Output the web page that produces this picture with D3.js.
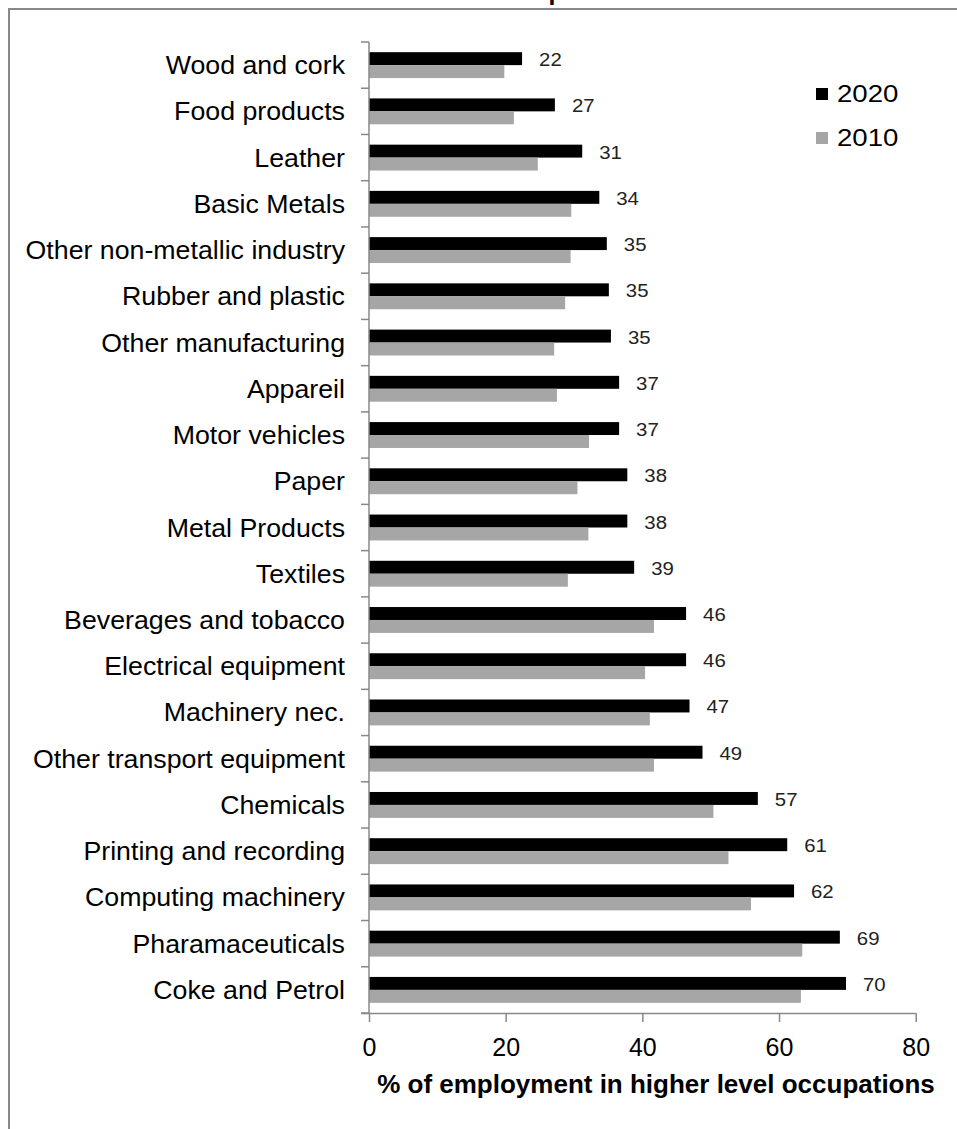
<!DOCTYPE html>
<html>
<head>
<meta charset="utf-8">
<script src="https://cdn.jsdelivr.net/npm/d3@7"></script>
<style>
  html, body { margin: 0; padding: 0; background: #fff; }
  svg { display: block; font-family: "Liberation Sans", Arial, sans-serif; }
</style>
</head>
<body>
<div id="viz"></div>
<script>
const W = 957;
const H = 1129;

const categories = [
  'Wood and cork', 'Food products', 'Leather', 'Basic Metals',
  'Other non-metallic industry', 'Rubber and plastic', 'Other manufacturing',
  'Appareil', 'Motor vehicles', 'Paper', 'Metal Products', 'Textiles',
  'Beverages and tobacco', 'Electrical equipment', 'Machinery nec.',
  'Other transport equipment', 'Chemicals', 'Printing and recording',
  'Computing machinery', 'Pharamaceuticals', 'Coke and Petrol',
];
const values2020 = [
  22.4, 27.2, 31.2, 33.7, 34.8, 35.1, 35.4, 36.6, 36.6, 37.8, 37.8,
  38.8, 46.4, 46.4, 46.9, 48.8, 56.9, 61.2, 62.2, 68.9, 69.8,
];
const values2010 = [
  19.8, 21.2, 24.7, 29.6, 29.5, 28.7, 27.1, 27.5, 32.2, 30.5, 32.1,
  29.1, 41.7, 40.4, 41.1, 41.7, 50.4, 52.6, 55.9, 63.4, 63.2,
];
const series = ['2020', '2010'];
const xTicks = [0, 20, 40, 60, 80];
const xTitle = '% of employment in higher level occupations';
const title = 'Associate Professional and Technical Occupations 2010 and 2020';

const colors = { '2020': '#000000', '2010': '#a6a6a6' };
const axisColor = '#888888';

const svg = d3.select('#viz').append('svg')
  .attr('width', W).attr('height', H)
  .attr('viewBox', `0 0 ${W} ${H}`);

// title sits above the top edge, only its lowest pixels show
svg.append('text')
  .attr('x', 36).attr('y', 0)
  .attr('font-size', 22).attr('font-weight', 700)
  .attr('textLength', 776).attr('lengthAdjust', 'spacingAndGlyphs')
  .attr('fill', '#000')
  .text(title);

// chart frame (right and bottom edges fall outside the picture)
svg.append('rect')
  .attr('x', 9).attr('y', 9).attr('width', W + 20).attr('height', H + 20)
  .attr('fill', '#fff').attr('stroke', axisColor).attr('stroke-width', 2);

const x = d3.scaleLinear().domain([0, 80]).range([369, 915.7]);
const y = d3.scaleBand().domain(categories).range([42, 1013])
  .paddingInner(0.44).paddingOuter(0.22);
const ys = d3.scaleBand().domain(series).range([0, y.bandwidth()]);

const rows = categories.map((c, i) => ({ cat: c, v2020: values2020[i], v2010: values2010[i] }));

// bars
const g = svg.append('g');
const row = g.selectAll('g.row').data(rows).join('g').attr('class', 'row')
  .attr('transform', (d) => `translate(0,${y(d.cat)})`);

row.selectAll('rect')
  .data((d) => series.map((s) => ({ s, v: s === '2020' ? d.v2020 : d.v2010 })))
  .join('rect')
  .attr('x', x(0))
  .attr('y', (d) => ys(d.s))
  .attr('width', (d) => x(d.v) - x(0))
  .attr('height', ys.bandwidth())
  .attr('fill', (d) => colors[d.s]);

// value labels on 2020 bars
row.append('text')
  .attr('transform', (d) => `translate(${x(d.v2020) + 17},${ys('2020') + ys.bandwidth() + 1}) scale(1.1,1)`)
  .attr('font-size', 18.5)
  .attr('fill', '#222')
  .text((d) => d3.format('.0f')(d.v2020));

// category axis: line, boundary ticks, labels
const step = y.step();
const y0 = y.range()[0];
svg.append('line')
  .attr('x1', x(0)).attr('x2', x(0))
  .attr('y1', y0).attr('y2', y.range()[1])
  .attr('stroke', axisColor).attr('stroke-width', 1.5);
svg.selectAll('line.ytick')
  .data(d3.range(categories.length + 1))
  .join('line').attr('class', 'ytick')
  .attr('x1', x(0) - 8).attr('x2', x(0))
  .attr('y1', (i) => y0 + i * step).attr('y2', (i) => y0 + i * step)
  .attr('stroke', axisColor).attr('stroke-width', 1.5);

svg.selectAll('text.ylab')
  .data(categories)
  .join('text').attr('class', 'ylab')
  .attr('transform', (d) => `translate(345,${y(d) + y.bandwidth() / 2 + 9}) scale(1.07,1)`)
  .attr('text-anchor', 'end')
  .attr('font-size', 25)
  .attr('fill', '#000')
  .text((d) => d);

// value axis
const xAxis = svg.append('g')
  .attr('transform', `translate(0,${y.range()[1]})`)
  .call(d3.axisBottom(x).tickValues(xTicks).tickSize(9).tickSizeOuter(0));
xAxis.select('.domain').attr('stroke', axisColor).attr('stroke-width', 1.5)
  .attr('d', `M${x(0) - 8},0.5H${x(80)}`);
xAxis.selectAll('.tick line').attr('stroke', axisColor).attr('stroke-width', 1.5);
xAxis.selectAll('.tick text')
  .attr('y', 43).attr('dy', null)
  .attr('font-size', 25).attr('font-family', '"Liberation Sans", Arial, sans-serif')
  .attr('fill', '#000');

svg.append('text')
  .attr('x', 656).attr('y', 1093)
  .attr('text-anchor', 'middle')
  .attr('font-size', 26).attr('font-weight', 700)
  .attr('fill', '#000')
  .text(xTitle);

// legend
const legend = svg.append('g');
const legendRows = legend.selectAll('g').data(series).join('g')
  .attr('transform', (d, i) => `translate(816,${88 + i * 44})`);
legendRows.append('rect')
  .attr('width', 12).attr('height', 12)
  .attr('fill', (d) => colors[d]);
legendRows.append('text')
  .attr('transform', 'translate(21,14) scale(1.2,1)')
  .attr('font-size', 23)
  .attr('fill', '#000')
  .text((d) => d);
</script>
</body>
</html>
